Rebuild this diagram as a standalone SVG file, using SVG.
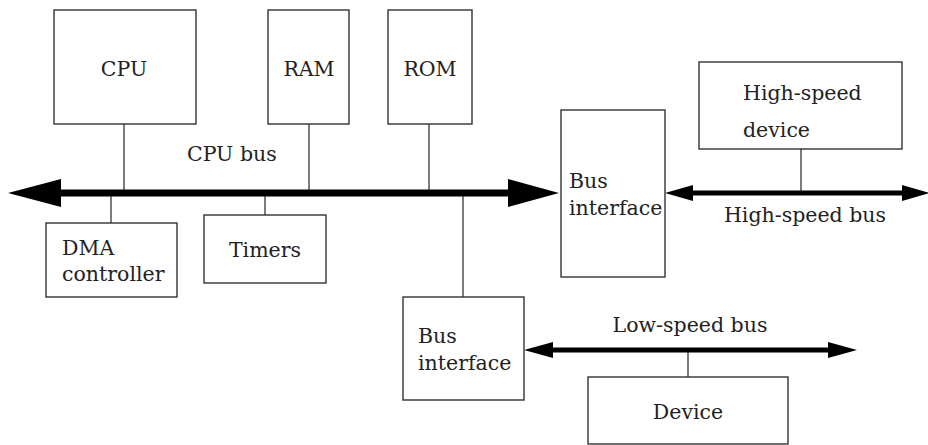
<svg xmlns="http://www.w3.org/2000/svg" width="928" height="445" viewBox="0 0 928 445">
<style>
.box{fill:#fff;stroke:#333;stroke-width:1.4}
.wire{stroke:#444;stroke-width:1.4;fill:none}
.bus{stroke:#000;fill:none}
.head{fill:#000}
text{font-family:'DejaVu Serif','Liberation Serif','Noto Serif',serif;font-size:20.5px;fill:#222}
.c{text-anchor:middle}
</style>
<rect width="928" height="445" fill="#fff"/>
<g id="connectors">
<line class="wire" x1="124" y1="124" x2="124" y2="193"/>
<line class="wire" x1="309" y1="124" x2="309" y2="193"/>
<line class="wire" x1="429" y1="124" x2="429" y2="193"/>
<line class="wire" x1="111" y1="193" x2="111" y2="223"/>
<line class="wire" x1="265" y1="193" x2="265" y2="215"/>
<line class="wire" x1="463" y1="193" x2="463" y2="297"/>
<line class="wire" x1="801" y1="149" x2="801" y2="193"/>
<line class="wire" x1="688" y1="350" x2="688" y2="377"/>
<g id="cpu-bus">
<line class="bus" stroke-width="7" x1="55" y1="193" x2="512" y2="193"/>
<polygon class="head" points="8,193 61,179 61,207"/>
<polygon class="head" points="559,193 508,179 508,207"/>
</g>
<g id="high-speed-bus">
<line class="bus" stroke-width="5" x1="688" y1="193" x2="905" y2="193"/>
<polygon class="head" points="665,193 693,185 693,201"/>
<polygon class="head" points="930,193 902,185 902,201"/>
</g>
<g id="low-speed-bus">
<line class="bus" stroke-width="5" x1="548" y1="350" x2="832" y2="350"/>
<polygon class="head" points="524,350 553,342 553,358"/>
<polygon class="head" points="857,350 828,342 828,358"/>
</g>
</g>
<g id="cpu"><rect class="box" x="54" y="10" width="142" height="114"/><text class="c" x="124" y="76">CPU</text></g>
<g id="ram"><rect class="box" x="268" y="10" width="81" height="114"/><text class="c" x="309" y="76">RAM</text></g>
<g id="rom"><rect class="box" x="388" y="10" width="84" height="114"/><text class="c" x="430" y="76">ROM</text></g>
<g id="cpu-bus-label"><text x="187" y="161">CPU bus</text></g>
<g id="dma"><rect class="box" x="46" y="223" width="131" height="74"/><text x="62" y="255">DMA</text><text x="62" y="281">controller</text></g>
<g id="timers"><rect class="box" x="204" y="215" width="122" height="68"/><text class="c" x="265" y="257">Timers</text></g>
<g id="bus-interface-1"><rect class="box" x="561" y="110" width="104" height="167"/><text x="569" y="188">Bus</text><text x="569" y="215">interface</text></g>
<g id="high-speed-device"><rect class="box" x="699" y="62" width="203" height="87"/><text x="743" y="100">High-speed</text><text x="743" y="137">device</text></g>
<g id="high-speed-bus-label"><text class="c" x="805" y="222">High-speed bus</text></g>
<g id="bus-interface-2"><rect class="box" x="403" y="297" width="121" height="103"/><text x="418" y="343">Bus</text><text x="418" y="370">interface</text></g>
<g id="low-speed-bus-label"><text class="c" x="690" y="332">Low-speed bus</text></g>
<g id="device"><rect class="box" x="588" y="377" width="200" height="67"/><text class="c" x="688" y="419">Device</text></g>
</svg>
